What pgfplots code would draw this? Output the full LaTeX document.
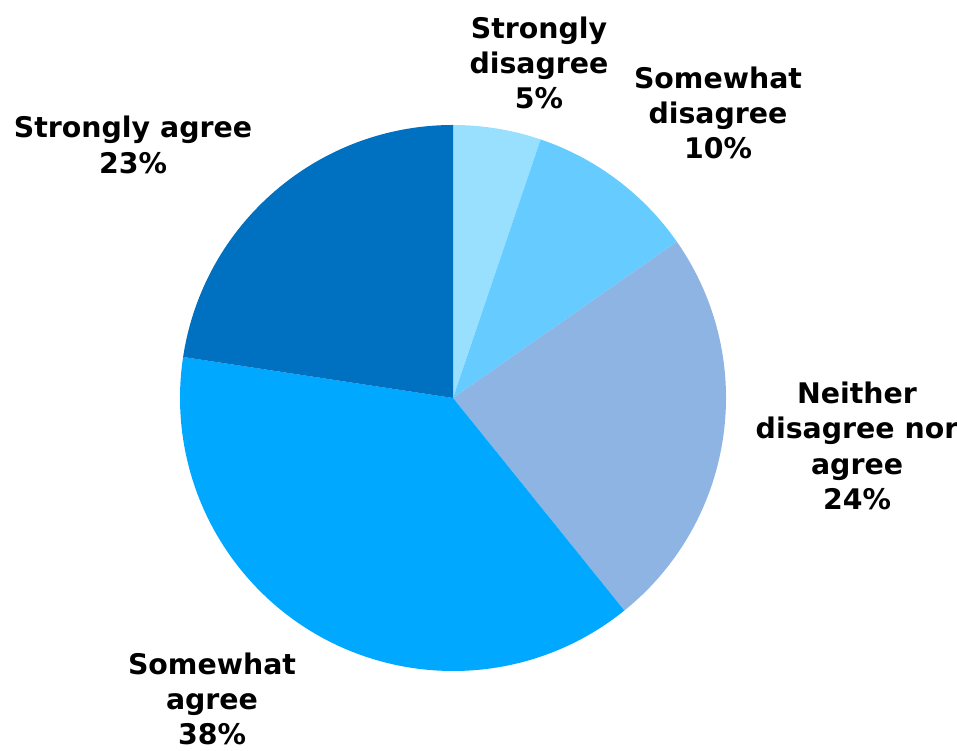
\documentclass[border=0pt]{standalone}
\usepackage{fontspec}
\setmainfont{DejaVu Sans}
\usepackage{pgfplots}
\usepackage{pgfplotstable}
\pgfplotsset{compat=1.18}
\definecolor{slice0}{HTML}{99E0FF}
\definecolor{slice1}{HTML}{66CCFF}
\definecolor{slice2}{HTML}{8EB4E3}
\definecolor{slice3}{HTML}{00A8FF}
\definecolor{slice4}{HTML}{0070C0}
\pgfplotstableread[col sep=comma]{
label,value
Strongly disagree,5.2
Somewhat disagree,10.1
Neither disagree nor agree,23.9
Somewhat agree,38.2
Strongly agree,22.6
}\piedata
\begin{document}
\begin{tikzpicture}
\begin{axis}[
  width=957bp, height=751bp, scale only axis,
  xmin=0, xmax=957, ymin=0, ymax=751,
  hide axis, clip=false,
]
\def\cum{0}
\pgfplotsforeachungrouped \i in {0,...,4}{%
  \pgfplotstablegetelem{\i}{value}\of\piedata
  \let\val\pgfplotsretval
  \pgfmathsetmacro\a{90-3.6*\cum}%
  \pgfmathsetmacro\b{90-3.6*(\cum+\val)}%
  \edef\temp{\noexpand\fill[slice\i] (axis cs:453,353) -- ++(\a:273bp) arc[start angle=\a, end angle=\b, radius=273bp] -- cycle;}%
  \temp
  \pgfmathsetmacro\cum{\cum+\val}%
}
\tikzset{lbl/.style={align=center, inner sep=0pt, font=\fontsize{28.5}{35.5}\selectfont\bfseries}}
\node[lbl] at (axis cs:133,606) {Strongly agree\\23\%};
\node[lbl] at (axis cs:539,688) {Strongly\\disagree\\5\%};
\node[lbl] at (axis cs:718,638) {Somewhat\\disagree\\10\%};
\node[lbl] at (axis cs:857,305) {Neither\\disagree nor\\agree\\24\%};
\node[lbl] at (axis cs:212,52) {Somewhat\\agree\\38\%};
\end{axis}
\pgfresetboundingbox
\path[use as bounding box] (current axis.south west) rectangle (current axis.north east);
\end{tikzpicture}
\end{document}
